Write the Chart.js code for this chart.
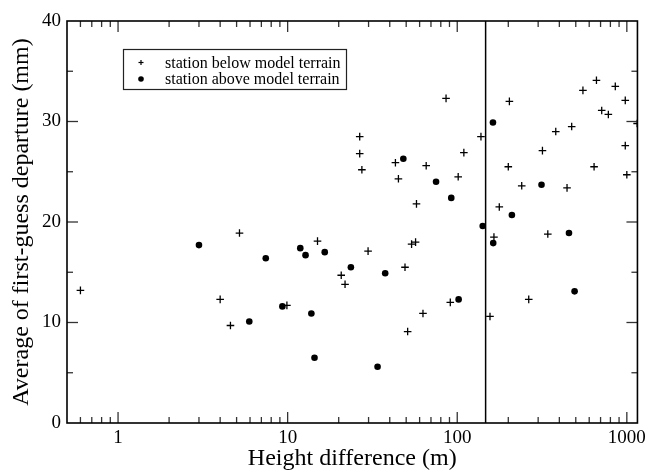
<!DOCTYPE html>
<html><head><meta charset="utf-8">
<script src="https://cdn.jsdelivr.net/npm/chart.js@4/dist/chart.umd.min.js"></script>
<style>html,body{margin:0;padding:0;background:#fff}#wrap{width:650px;height:471px}</style>
</head><body><div id="wrap"><canvas id="c" width="650" height="471"></canvas></div>
<script>
// Height difference (m) and average first-guess departure (mm)
const belowX = [0.6, 5.2, 15.0, 20.7, 21.8, 4.0, 4.6, 9.9, 85.9, 26.6, 26.6, 27.4, 43.2, 45, 65.6, 109.4, 101.3, 138, 57.5, 203, 381, 473, 551, 662, 855, 711, 778, 979, 318, 979, 200, 641, 1000, 240, 444, 177, 29.8, 49.2, 53.8, 56.8, 51, 62.8, 91, 164.6, 342, 264, 156, 1150];
const belowY = [13.2, 18.9, 18.1, 14.7, 13.8, 12.3, 9.7, 11.7, 32.3, 28.5, 26.8, 25.2, 25.9, 24.3, 25.6, 26.9, 24.5, 28.5, 21.8, 32.0, 29.0, 29.5, 33.1, 34.1, 33.5, 31.1, 30.7, 32.1, 27.1, 27.6, 25.5, 25.5, 24.7, 23.6, 23.4, 21.5, 17.1, 15.5, 17.8, 18.0, 9.1, 10.9, 12.0, 18.5, 18.8, 12.3, 10.6, 29.8];
const aboveX = [3.0, 7.43, 11.87, 12.75, 16.55, 23.6, 5.94, 9.31, 13.8, 14.4, 48.1, 75, 92.2, 162.4, 314, 210, 37.6, 33.9, 101.9, 141.3, 163, 456, 492];
const aboveY = [17.7, 16.4, 17.4, 16.7, 17.0, 15.5, 10.1, 11.6, 10.9, 6.5, 26.3, 24.0, 22.4, 29.9, 23.7, 20.7, 14.9, 5.6, 12.3, 19.6, 17.9, 18.9, 13.1];
const seriesNames = ['station below model terrain', 'station above model terrain'];
const xTickLabels = [1, 10, 100, 1000];
const yTickLabels = [0, 10, 20, 30, 40];
const thresholdX = 147;
const xTitle = 'Height difference (m)';
const yTitle = 'Average of first-guess departure (mm)';

const FONT = "'Liberation Serif', 'Times New Roman', serif";
const toPts = (xs, ys) => xs.map((x, i) => ({x: x, y: ys[i]}));

const framePlugin = {
  id: 'frame',
  afterDatasetsDraw(chart) {
    const {ctx, chartArea: a, scales: {x, y}} = chart;
    ctx.save();
    // threshold line
    const vx = x.getPixelForValue(thresholdX);
    ctx.strokeStyle = '#000'; ctx.lineWidth = 1.5;
    ctx.beginPath(); ctx.moveTo(vx, a.top); ctx.lineTo(vx, a.bottom); ctx.stroke();
    // ticks
    ctx.strokeStyle = '#333'; ctx.lineWidth = 1.3;
    const tick = (x1, y1, x2, y2) => { ctx.beginPath(); ctx.moveTo(x1, y1); ctx.lineTo(x2, y2); ctx.stroke(); };
    for (let d = 0.1; d <= 1000; d *= 10) {
      for (let m = 1; m <= 9; m++) {
        const v = Math.round(d * m * 1000) / 1000;
        if (v <= x.min || v >= x.max) continue;
        const px = x.getPixelForValue(v);
        const len = m === 1 ? 11 : 6;
        tick(px, a.bottom, px, a.bottom - len);
        tick(px, a.top, px, a.top + len);
      }
    }
    for (let v = 5; v < 40; v += 5) {
      const py = y.getPixelForValue(v);
      const len = v % 10 === 0 ? 11 : 6;
      tick(a.left, py, a.left + len, py);
      tick(a.right, py, a.right - len, py);
    }
    // frame
    ctx.strokeStyle = '#000'; ctx.lineWidth = 1.6;
    ctx.strokeRect(a.left, a.top, a.right - a.left, a.bottom - a.top);
    // legend
    const lx = 123.5, ly = 49.5, lw = 223, lh = 40;
    ctx.fillStyle = '#fff'; ctx.fillRect(lx, ly, lw, lh);
    ctx.strokeStyle = '#222'; ctx.lineWidth = 1.2; ctx.strokeRect(lx, ly, lw, lh);
    ctx.fillStyle = '#000';
    ctx.font = '16px ' + FONT; ctx.textBaseline = 'middle'; ctx.textAlign = 'left';
    const r1 = 62.5, r2 = 79, sx = 141;
    ctx.lineWidth = 1.2; ctx.strokeStyle = '#000';
    tick(sx - 2.5, r1, sx + 2.5, r1); tick(sx, r1 - 2.5, sx, r1 + 2.5);
    ctx.beginPath(); ctx.arc(sx, r2, 2.8, 0, Math.PI * 2); ctx.fill();
    ctx.fillText(seriesNames[0], 165, r1 + 1);
    ctx.fillText(seriesNames[1], 165, r2 + 1);
    ctx.restore();
  }
};

new Chart(document.getElementById('c'), {
  type: 'scatter',
  data: {
    datasets: [
      {label: seriesNames[0], data: toPts(belowX, belowY), pointStyle: 'cross', radius: 3.8, borderColor: '#000', backgroundColor: '#000', borderWidth: 1.3},
      {label: seriesNames[1], data: toPts(aboveX, aboveY), pointStyle: 'circle', radius: 3.3, borderColor: '#000', backgroundColor: '#000', borderWidth: 0}
    ]
  },
  options: {
    responsive: false, animation: false, devicePixelRatio: 1,
    layout: {padding: {top: 21, right: 9, left: 0, bottom: 0}},
    plugins: {legend: {display: false}, tooltip: {enabled: false}},
    scales: {
      x: {
        type: 'logarithmic', min: 0.5, max: 1155, position: 'bottom',
        grid: {display: false, drawTicks: false}, border: {display: false},
        afterBuildTicks: s => { s.ticks = xTickLabels.map(v => ({value: v})); },
        afterFit: s => { s.height = 48; },
        ticks: {autoSkip: false, maxRotation: 0, padding: 4, color: '#000', font: {family: FONT, size: 19}, callback: v => String(v)},
        title: {display: true, text: xTitle, color: '#000', font: {family: FONT, size: 24, lineHeight: 1}, padding: {top: 0, bottom: 0}}
      },
      y: {
        min: 0, max: 40,
        grid: {display: false, drawTicks: false}, border: {display: false},
        afterBuildTicks: s => { s.ticks = yTickLabels.map(v => ({value: v})); },
        afterFit: s => { s.width = 67; },
        ticks: {padding: 6, color: '#000', font: {family: FONT, size: 19}, callback: v => String(v)},
        title: {display: true, text: yTitle, color: '#000', font: {family: FONT, size: 24, lineHeight: 1}, padding: {top: 10, bottom: 0}}
      }
    }
  },
  plugins: [framePlugin]
});
</script></body></html>
